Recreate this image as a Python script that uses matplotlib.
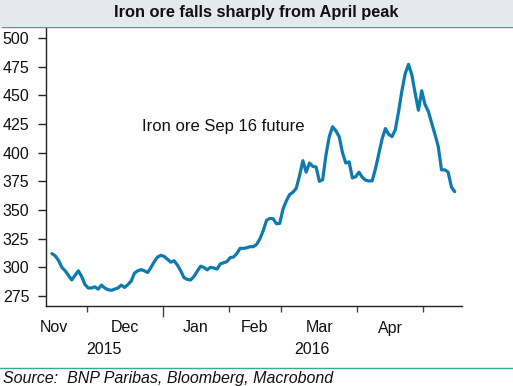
import matplotlib
matplotlib.use("Agg")
import matplotlib.pyplot as plt
import matplotlib.transforms as mtransforms
from matplotlib.lines import Line2D
from matplotlib.patches import Rectangle
import numpy as np

plt.rcParams['font.family'] = ['Liberation Sans', 'DejaVu Sans']

# Daily (trading-day) values of the Iron ore Sep 16 future, mid-Nov 2015 to mid-May 2016
values = [
    312, 310, 306, 300, 297, 293, 289, 293, 297, 292,   # Nov
    285,
    282, 282, 283, 281, 284.5, 282, 280.5, 280, 281, 282,  # Dec
    284.5, 282.5, 285, 288, 295, 297, 298, 297, 295.5, 300,
    305, 309, 310.5,
    309.5, 307, 304.5, 305.8, 302, 297, 291, 289.5, 289, 292,  # Jan
    296.5, 301, 300, 297.8, 300, 299.5, 298.5, 303, 304, 305,
    308.5, 309, 312, 316.6, 316.6, 317, 318, 318, 320, 325,  # Feb
    332, 341, 342.7, 342.4, 338, 338.4,
    351, 358, 363.5, 365.5, 369, 380, 393, 383, 391, 388,  # Mar
    387.5, 375, 376.5, 398, 414, 422.6, 419, 414, 400, 391,
    392, 378, 379,
    383, 378.5, 376, 375.3, 375.5, 386, 399, 412, 421, 416,  # Apr
    414, 420, 436, 454, 469, 477, 468, 452, 437, 454,
    442, 436, 426, 416, 405.5, 385, 385, 383, 370, 366,  # May
]

# Trading days per month (Nov is the full month; the series starts part-way through it)
months = ['Nov', 'Dec', 'Jan', 'Feb', 'Mar', 'Apr']
month_days = [20, 23, 20, 16, 23, 20]
nov_days_shown = 11
years = ['2015', '2016']
yticks = [275, 300, 325, 350, 375, 400, 425, 450, 475, 500]

W, H = 513, 386
fig = plt.figure(figsize=(W / 100, H / 100), dpi=100)

# title band
fig.patches.append(Rectangle((0, 1 - 26 / H), 1, 26 / H, transform=fig.transFigure,
                             facecolor='#e7e8ed', edgecolor='none', zorder=0))
fig.lines.append(Line2D([2 / W, 1], [1 - 27.3 / H] * 2, transform=fig.transFigure,
                        color='#3aa88e', lw=1.0))
fig.text(0.5, 1 - 13 / H, 'Iron ore falls sharply from April peak', ha='center', va='center',
         fontsize=11.8, fontweight='bold', color='#111111')

ax = fig.add_axes([46 / W, 1 - 306 / H, (462 - 46) / W, (306 - 28) / H])
x = np.arange(len(values))
ax.plot(x, values, color='#0e7aae', lw=2.3, solid_joinstyle='round', solid_capstyle='round')

ax.set_xlim(-1.8, 124.2)
ax.set_ylim(266.3, 508.7)

for s in ['top', 'right']:
    ax.spines[s].set_visible(False)
for s in ['left', 'bottom']:
    ax.spines[s].set_linewidth(1.0)
    ax.spines[s].set_color('#222222')

ax.set_yticks(yticks)
ax.set_yticklabels([str(v) for v in yticks], fontsize=11.5, color='#111111')
ax.tick_params(axis='y', direction='out', length=6, width=1.0, pad=6, color='#222222')

# month boundaries
start = nov_days_shown - 0.5 - month_days[0]
bounds = [start]
for d in month_days:
    bounds.append(bounds[-1] + d)
year_boundary = bounds[2]
short_ticks = [b for b in bounds[1:] if b != year_boundary]
ax.set_xticks(short_ticks)
ax.set_xticks([year_boundary], minor=True)
ax.set_xticklabels([])
ax.tick_params(axis='x', which='major', direction='out', length=4, width=1.0, color='#444444')
ax.tick_params(axis='x', which='minor', direction='out', length=8, width=1.0, color='#444444')

trans = mtransforms.blended_transform_factory(ax.transData, fig.transFigure)
for i, m in enumerate(months):
    cx = (bounds[i] + bounds[i + 1]) / 2
    ax.text(cx, 1 - 328 / H, m, transform=trans, ha='center', va='center',
            fontsize=11.5, color='#111111', clip_on=False)

x0, x1 = ax.get_xlim()
ax.text((x0 + year_boundary) / 2, 1 - 350 / H, years[0], transform=trans, ha='center',
        va='center', fontsize=11.5, color='#111111', clip_on=False)
ax.text((year_boundary + x1) / 2, 1 - 350 / H, years[1], transform=trans, ha='center',
        va='center', fontsize=11.5, color='#111111', clip_on=False)

ax.text(52, 422.5, 'Iron ore Sep 16 future', ha='center', va='center', fontsize=12,
        color='#111111')

fig.lines.append(Line2D([0, 1], [1 - 368 / H] * 2, transform=fig.transFigure,
                        color='#3aa88e', lw=1.0))
fig.text(3 / W, 1 - 378 / H, 'Source:  BNP Paribas, Bloomberg, Macrobond', ha='left',
         va='center', fontsize=11.5, style='italic', color='#111111')

fig.savefig('out.png', dpi=100)
